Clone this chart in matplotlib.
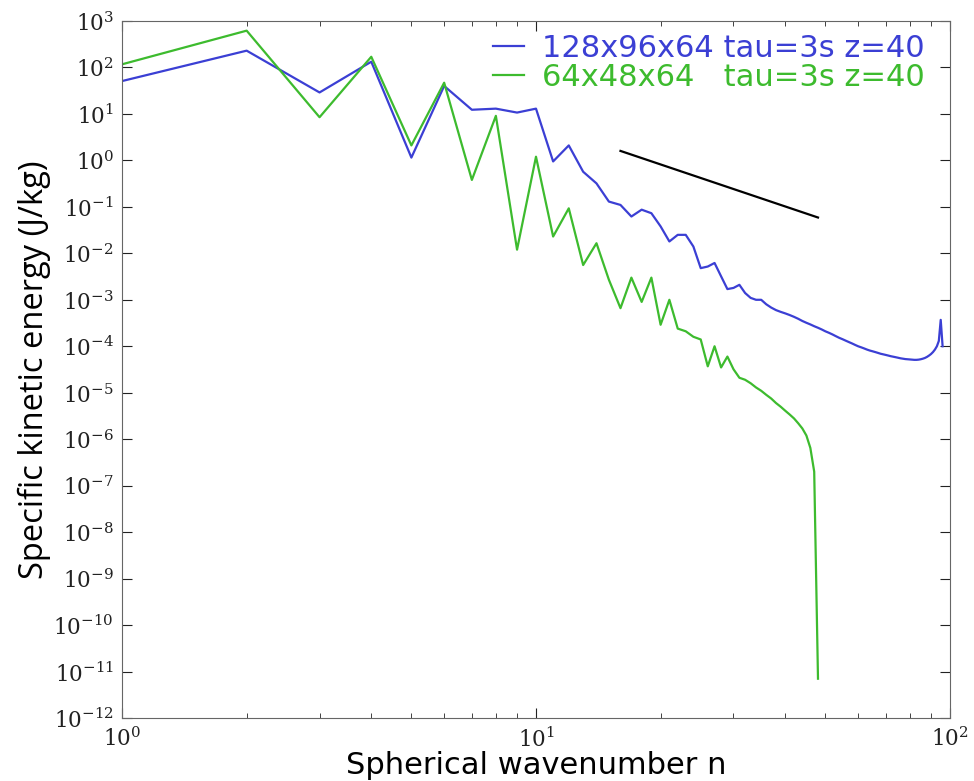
import math
import matplotlib
matplotlib.use("Agg")
import matplotlib.pyplot as plt
from matplotlib.ticker import FuncFormatter, LogLocator

# spectra
n_hi = list(range(1, 97))
E_hi = [51, 230, 29, 133, 1.15, 40, 12.3, 13, 10.7, 13,
        0.95, 2.1, 0.57, 0.32, 0.13, 0.11, 0.062, 0.087, 0.073, 0.038,
        0.018, 0.025, 0.025, 0.014, 0.0048, 0.0052, 0.0062, 0.0032, 0.0017, 0.0018,
        0.0021, 0.0014, 0.0011, 0.001, 0.001, 8.0e-4, 6.8e-4, 6.0e-4, 5.5e-4, 5.1e-4,
        4.7e-4, 4.3e-4, 3.9e-4, 3.5e-4, 3.2e-4, 2.95e-4, 2.7e-4, 2.5e-4, 2.3e-4, 2.1e-4,
        1.95e-4, 1.8e-4, 1.65e-4, 1.52e-4, 1.42e-4, 1.32e-4, 1.23e-4, 1.15e-4, 1.07e-4, 1.0e-4,
        9.5e-5, 9.0e-5, 8.5e-5, 8.1e-5, 7.8e-5, 7.5e-5, 7.2e-5, 6.9e-5, 6.7e-5, 6.5e-5,
        6.3e-5, 6.1e-5, 5.95e-5, 5.8e-5, 5.65e-5, 5.5e-5, 5.4e-5, 5.3e-5, 5.25e-5, 5.2e-5,
        5.15e-5, 5.1e-5, 5.1e-5, 5.15e-5, 5.25e-5, 5.4e-5, 5.6e-5, 5.9e-5, 6.3e-5, 6.8e-5,
        7.5e-5, 8.5e-5, 1.0e-4, 1.3e-4, 3.7e-4, 1.0e-4]

n_lo = list(range(1, 49))
E_lo = [117, 620, 8.5, 170, 2.1, 47, 0.38, 9.1, 0.012, 1.2,
        0.023, 0.093, 0.0056, 0.0165, 0.0027, 6.6e-4, 0.003, 9e-4, 0.003, 2.9e-4,
        1e-3, 2.4e-4, 2.1e-4, 1.6e-4, 1.4e-4, 3.7e-5, 1.0e-4, 3.5e-5, 6e-5, 3.2e-5,
        2.1e-5, 1.9e-5, 1.6e-5, 1.3e-5, 1.1e-5, 9e-6, 7.5e-6, 6.0e-6, 5e-6, 4.1e-6,
        3.4e-6, 2.8e-6, 2.2e-6, 1.7e-6, 1.2e-6, 6.5e-7, 2.0e-7, 7e-12]

# n^-3 reference slope
n_ref = [16, 48]
E_ref = [1.6, 0.059]

labels = ['128x96x64 tau=3s z=40', '64x48x64   tau=3s z=40']
colors = ['#3b3fd4', '#3dbb2e']

plt.rcParams['mathtext.fontset'] = 'dejavuserif'

fig = plt.figure(figsize=(9.74, 7.81), dpi=100)
ax = fig.add_axes([0.1253, 0.0807, 0.85, 0.8924])

ax.plot(n_hi, E_hi, color=colors[0], lw=1.6, label=labels[0])
ax.plot(n_lo, E_lo, color=colors[1], lw=1.6, label=labels[1])
ax.plot(n_ref, E_ref, color='black', lw=1.6)

ax.set_xscale('log')
ax.set_yscale('log')
ax.set_xlim(1, 100)
ax.set_ylim(1e-12, 1e3)
ax.yaxis.set_major_locator(LogLocator(base=10, numticks=20))
ax.yaxis.set_minor_locator(plt.NullLocator())
fmt = FuncFormatter(lambda v, p: r'$10^{%d}$' % round(math.log10(v)))
ax.xaxis.set_major_formatter(fmt)
ax.yaxis.set_major_formatter(fmt)

ax.tick_params(which='both', direction='in', top=True, right=True,
               labelsize=15.5, colors='#222222')
ax.tick_params(which='major', length=7, pad=6)
ax.tick_params(which='minor', length=3.5)
for s in ax.spines.values():
    s.set_color('#666666')

ax.set_xlabel('Spherical wavenumber n', fontsize=22, family='DejaVu Sans',
              labelpad=0)
ax.set_ylabel('Specific kinetic energy (J/kg)', fontsize=23.5,
              family=['Open Sans', 'DejaVu Sans'], labelpad=2)

ax.legend(loc='upper right', bbox_to_anchor=(0.97, 0.982), frameon=False,
          fontsize=22, labelcolor='linecolor', handlelength=1.0,
          handletextpad=0.6, labelspacing=0.0, borderpad=0, borderaxespad=0)

fig.savefig('out.png', dpi=100)
